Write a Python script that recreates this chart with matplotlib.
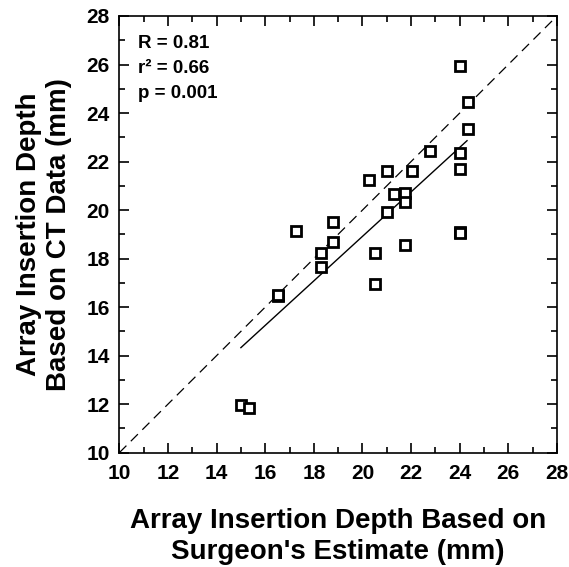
import matplotlib
matplotlib.use("Agg")
from matplotlib import pyplot as plt
from matplotlib.ticker import MultipleLocator

plt.rcParams['font.family'] = ['Liberation Sans', 'DejaVu Sans']
plt.rcParams['font.weight'] = 'bold'

# surgeon's estimate (x) vs CT data (y)
surgeon = [24.0, 24.33, 24.33, 22.78, 24.0, 24.0, 21.0, 22.05, 20.25, 21.31,
           21.73, 21.73, 21.0, 18.77, 17.25, 18.77, 18.29, 18.29, 20.53, 20.53,
           21.73, 24.0, 24.0, 16.51, 16.51, 15.0, 15.33]
ct_data = [25.94, 24.44, 23.33, 22.45, 22.34, 21.69, 21.62, 21.62, 21.25, 20.66,
           20.72, 20.32, 19.91, 19.52, 19.15, 18.70, 18.25, 17.67, 18.22, 16.95,
           18.56, 19.10, 19.04, 16.46, 16.48, 11.95, 11.85]

fit_x = [15.0, 24.3]
fit_y = [14.33, 22.86]
ident = [10, 28]

stats = ["R = 0.81", "r\u00b2 = 0.66", "p = 0.001"]

fig = plt.figure(figsize=(5.69, 5.67), dpi=100)
ax = fig.add_axes([0.2097, 0.2016, 0.9789 - 0.2097, 0.9718 - 0.2016])

ax.plot(ident, ident, color='black', lw=0.9, dashes=(8, 5))
ax.plot(fit_x, fit_y, color='black', lw=1.0)
ax.plot(surgeon, ct_data, 's', ms=7, mfc='white', mec='black', mew=2.0,
        linestyle='none')

ax.set_xlim(10, 28)
ax.set_ylim(10, 28)
ax.xaxis.set_major_locator(MultipleLocator(2))
ax.yaxis.set_major_locator(MultipleLocator(2))
ax.xaxis.set_minor_locator(MultipleLocator(1))
ax.yaxis.set_minor_locator(MultipleLocator(1))
ax.tick_params(which='both', direction='in', top=True, right=True, width=1.2)
ax.tick_params(which='major', length=7, labelsize=15)
ax.tick_params(axis='x', which='major', pad=8)
ax.tick_params(axis='y', which='major', pad=7)
ax.tick_params(which='minor', length=4)
for s in ax.spines.values():
    s.set_linewidth(1.2)

ax.set_xlabel("Array Insertion Depth Based on\nSurgeon's Estimate (mm)",
              fontsize=20, fontweight='bold', labelpad=18, linespacing=1.25)
ax.set_ylabel("Array Insertion Depth\nBased on CT Data (mm)",
              fontsize=20, fontweight='bold', labelpad=10, linespacing=1.2)

for i, t in enumerate(stats):
    ax.text(0.043, 0.926 - i * 0.0572, t, transform=ax.transAxes, fontsize=13.5,
            fontweight='bold', va='baseline', ha='left')

fig.savefig("out.png", dpi=100)
